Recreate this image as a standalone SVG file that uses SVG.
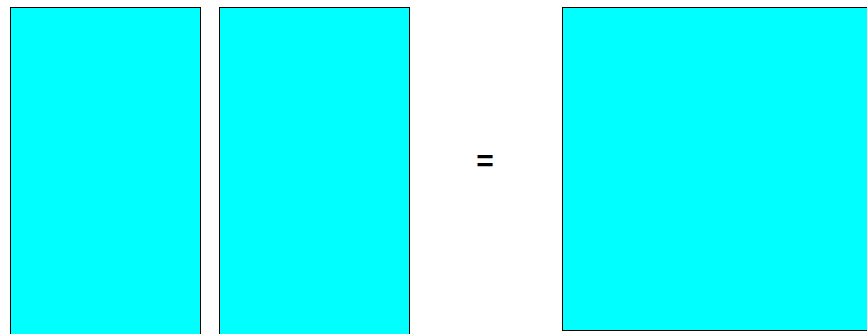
<svg xmlns="http://www.w3.org/2000/svg" width="867" height="334" viewBox="0 0 867 334">
<style>
.box{fill:#00ffff;stroke:#000;stroke-width:1}
.op{font-family:"Liberation Sans",Arial,sans-serif;font-weight:bold;font-size:30px;fill:#000}
</style>
<rect width="867" height="334" fill="#fff"/>
<g id="left1"><rect class="box" x="10.5" y="7.5" width="190" height="340"/></g>
<g id="left2"><rect class="box" x="219.5" y="7.5" width="190" height="340"/></g>
<g id="equals"><text class="op" x="485" y="171" text-anchor="middle">=</text></g>
<g id="right"><rect class="box" x="562.5" y="7.5" width="320" height="323"/></g>
<g id="connectors"></g>
</svg>
